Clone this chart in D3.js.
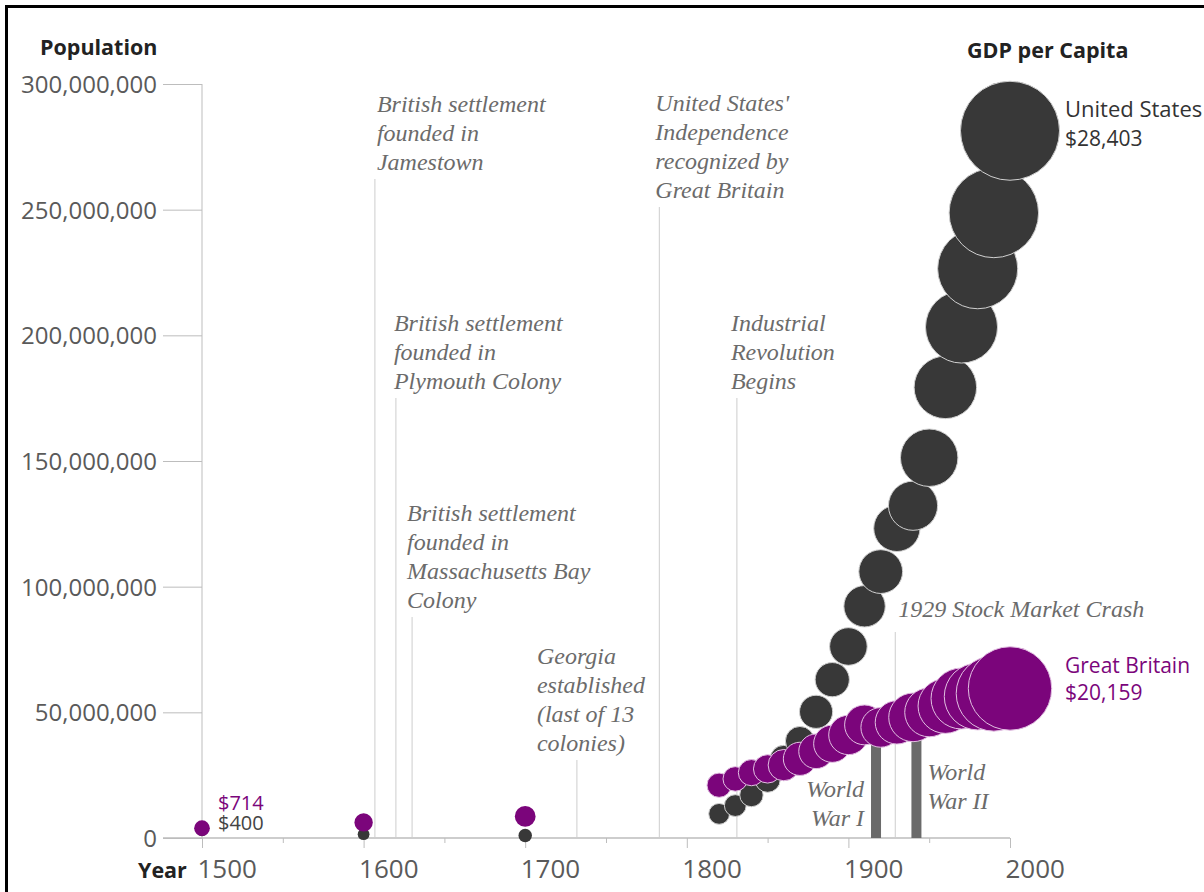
<!DOCTYPE html>
<html>
<head>
<meta charset="utf-8">
<script src="https://cdn.jsdelivr.net/npm/d3@7"></script>
<style>
body { margin: 0; background: #fff; overflow: hidden; }
</style>
</head>
<body>
<script>
var width = 1204;
var height = 892;
var usColor = "#383838";
var gbColor = "#7b057b";
var noteColor = "#6b6b6b";
var ruleColor = "#cdcdcd";

// decades 1820 - 2000, population in millions, gdp per capita in dollars
var years = [1820, 1830, 1840, 1850, 1860, 1870, 1880, 1890, 1900, 1910,
             1920, 1930, 1940, 1950, 1960, 1970, 1980, 1990, 2000];
var usPopulation = [9.6, 12.9, 17.1, 23.2, 31.4, 38.6, 50.2, 63.0, 76.2, 92.2,
                    106.0, 123.2, 132.2, 151.3, 179.3, 203.3, 226.5, 248.7, 281.4];
var usGdp = [1257, 1376, 1588, 1849, 2178, 2445, 3184, 3392, 4091, 4964,
             5552, 6213, 7010, 9561, 11328, 15030, 18577, 23201, 28403];
var gbPopulation = [21.0, 23.5, 26.0, 27.5, 29.0, 31.5, 34.5, 37.5, 41.0, 45.0,
                    44.0, 46.0, 48.0, 50.0, 52.5, 55.5, 56.3, 57.5, 59.5];
var gbGdp = [1706, 1749, 1990, 2330, 2830, 3190, 3477, 4009, 4492, 4611,
             4548, 5441, 6856, 6939, 8645, 10767, 12931, 16430, 20159];

// colonial era points
var earlyYears = [1500, 1600, 1700];
var usEarlyPopulation = [3.0, 1.5, 1.0];
var usEarlyGdp = [400, 400, 527];
var gbEarlyPopulation = [3.9, 6.2, 8.6];
var gbEarlyGdp = [714, 974, 1250];

var yTicks = [0, 50, 100, 150, 200, 250, 300];
var xTicks = [1500, 1600, 1700, 1800, 1900, 2000];
var xMinorTicks = [1550, 1650, 1750, 1850, 1950];

var eventYears = [1607, 1620, 1630, 1732, 1783, 1831, 1929];
var eventLabels = [
  ["British settlement", "founded in", "Jamestown"],
  ["British settlement", "founded in", "Plymouth Colony"],
  ["British settlement", "founded in", "Massachusetts Bay", "Colony"],
  ["Georgia", "established", "(last of 13", "colonies)"],
  ["United States'", "Independence", "recognized by", "Great Britain"],
  ["Industrial", "Revolution", "Begins"],
  ["1929 Stock Market Crash"]
];
var warYears = [[1914, 1918], [1939, 1945]];
var warLabels = [["World", "War I"], ["World", "War II"]];

// where each note's text sits (offset from its rule, first baseline)
var noteLayout = [
  {dx: 2, top: 112}, {dx: -2, top: 331}, {dx: -5, top: 521}, {dx: -40, top: 664},
  {dx: -4, top: 111}, {dx: -6, top: 331}, {dx: 3, top: 617}
];
var lineGap = 29;

var svg = d3.select("body").append("svg")
    .attr("width", width)
    .attr("height", height);

var x = d3.scaleLinear().domain([1500, 2000]).range([202, 1010]);
var y = d3.scaleLinear().domain([0, 300]).range([838, 84]);
var r = d3.scaleSqrt().domain([0, 28403]).range([0, 49.5]);

// frame
svg.append("rect")
    .attr("x", 6.5).attr("y", 6.5)
    .attr("width", 1400).attr("height", 1000)
    .attr("fill", "none")
    .attr("stroke", "#000")
    .attr("stroke-width", 3);

// y axis
var yAxis = svg.append("g")
    .attr("transform", "translate(" + x(1500) + ",0)")
    .call(d3.axisLeft(y).tickValues(yTicks).tickSize(39).tickPadding(6)
        .tickFormat(function(d) { return d3.format(",")(d * 1e6); }));
yAxis.select(".domain").remove();
yAxis.selectAll("line").attr("stroke", "#bdbdbd");
yAxis.selectAll("text")
    .attr("font-family", "Open Sans, sans-serif")
    .attr("font-size", 24)
    .attr("fill", "#5a5a5a")
    .attr("dy", "0.35em");

svg.append("line")
    .attr("x1", x(1500)).attr("x2", x(1500))
    .attr("y1", y(300)).attr("y2", y(0))
    .attr("stroke", "#bdbdbd");

// x axis
var xAxis = svg.append("g")
    .attr("transform", "translate(0," + y(0) + ")")
    .call(d3.axisBottom(x).tickValues(xTicks).tickSize(10).tickPadding(12)
        .tickFormat(d3.format("d")));
xAxis.select(".domain").remove();
xAxis.selectAll("line").attr("stroke", "#bdbdbd");
xAxis.selectAll("text")
    .attr("font-family", "Open Sans, sans-serif")
    .attr("font-size", 26)
    .attr("fill", "#5a5a5a")
    .attr("text-anchor", "start")
    .attr("dx", -5);

var xMinor = svg.append("g")
    .attr("transform", "translate(0," + y(0) + ")")
    .call(d3.axisBottom(x).tickValues(xMinorTicks).tickSize(5).tickFormat(""));
xMinor.select(".domain").remove();
xMinor.selectAll("line").attr("stroke", "#bdbdbd");

svg.append("line")
    .attr("x1", 163).attr("x2", x(2000))
    .attr("y1", y(0)).attr("y2", y(0))
    .attr("stroke", "#bdbdbd")
    .attr("stroke-width", 1.5);

// event rules and notes
eventYears.forEach(function(yr, i) {
  var lay = noteLayout[i];
  var lines = eventLabels[i];
  var ruleTop = lay.top + (lines.length - 1) * lineGap + (lines.length == 1 ? 15 : 9);
  svg.append("line")
      .attr("x1", x(yr)).attr("x2", x(yr))
      .attr("y1", ruleTop).attr("y2", y(0))
      .attr("stroke", ruleColor);
  var t = svg.append("text")
      .attr("font-family", "Liberation Serif, serif")
      .attr("font-style", "italic")
      .attr("font-size", 24)
      .attr("fill", noteColor);
  lines.forEach(function(s, j) {
    t.append("tspan")
        .attr("x", x(yr) + lay.dx)
        .attr("y", lay.top + j * lineGap)
        .text(s);
  });
});

// wars
warYears.forEach(function(w, i) {
  var w0 = x(w[0]), w1 = x(w[1]);
  var bw = Math.max(w1 - w0, 10);
  svg.append("rect")
      .attr("x", w0).attr("y", 740)
      .attr("width", bw).attr("height", y(0) - 740)
      .attr("fill", "#6a6a6a");
  var t = svg.append("text")
      .attr("font-family", "Liberation Serif, serif")
      .attr("font-style", "italic")
      .attr("font-size", 24)
      .attr("fill", noteColor)
      .attr("text-anchor", i == 0 ? "end" : "start");
  warLabels[i].forEach(function(s, j) {
    t.append("tspan")
        .attr("x", i == 0 ? w0 - 7 : w0 + bw + 6)
        .attr("y", (i == 0 ? 797 : 780) + j * lineGap)
        .text(s);
  });
});

// early points
earlyYears.forEach(function(yr, i) {
  svg.append("circle")
      .attr("cx", x(yr)).attr("cy", y(usEarlyPopulation[i]))
      .attr("r", r(usEarlyGdp[i]))
      .attr("fill", usColor);
  svg.append("circle")
      .attr("cx", x(yr)).attr("cy", y(gbEarlyPopulation[i]))
      .attr("r", r(gbEarlyGdp[i]))
      .attr("fill", gbColor);
});

// bubbles
svg.append("g").selectAll("circle")
    .data(years)
    .join("circle")
    .attr("cx", function(d) { return x(d); })
    .attr("cy", function(d, i) { return y(usPopulation[i]); })
    .attr("r", function(d, i) { return r(usGdp[i]); })
    .attr("fill", usColor)
    .attr("stroke", "#d0d0d0")
    .attr("stroke-width", 1);

svg.append("g").selectAll("circle")
    .data(years)
    .join("circle")
    .attr("cx", function(d) { return x(d); })
    .attr("cy", function(d, i) { return y(gbPopulation[i]); })
    .attr("r", function(d, i) { return r(gbGdp[i]); })
    .attr("fill", gbColor)
    .attr("stroke", "#e2c0e2")
    .attr("stroke-width", 1);

// labels
var last = years.length - 1;
function label(txt, px, py, color, size) {
  svg.append("text")
      .attr("x", px).attr("y", py)
      .attr("font-family", "Open Sans, sans-serif")
      .attr("font-size", size)
      .attr("fill", color)
      .text(txt);
}
label("United States", x(2000) + 55, y(usPopulation[last]) - 14, "#333", 22);
label("$" + d3.format(",")(usGdp[last]), x(2000) + 55, y(usPopulation[last]) + 15, "#333", 21);
label("Great Britain", x(2000) + 55, y(gbPopulation[last]) - 15, gbColor, 21);
label("$" + d3.format(",")(gbGdp[last]), x(2000) + 55, y(gbPopulation[last]) + 12, gbColor, 21);
label("$" + gbEarlyGdp[0], x(1500) + 16, 810, gbColor, 20);
label("$" + usEarlyGdp[0], x(1500) + 16, 830, "#444", 20);

function title(txt, px, py) {
  svg.append("text")
      .attr("x", px).attr("y", py)
      .attr("font-family", "Open Sans, sans-serif")
      .attr("font-weight", "bold")
      .attr("font-size", 21.5)
      .attr("fill", "#222")
      .text(txt);
}
title("Population", 40, 55);
title("GDP per Capita", 967, 58);
title("Year", 138, 878);
</script>
</body>
</html>
